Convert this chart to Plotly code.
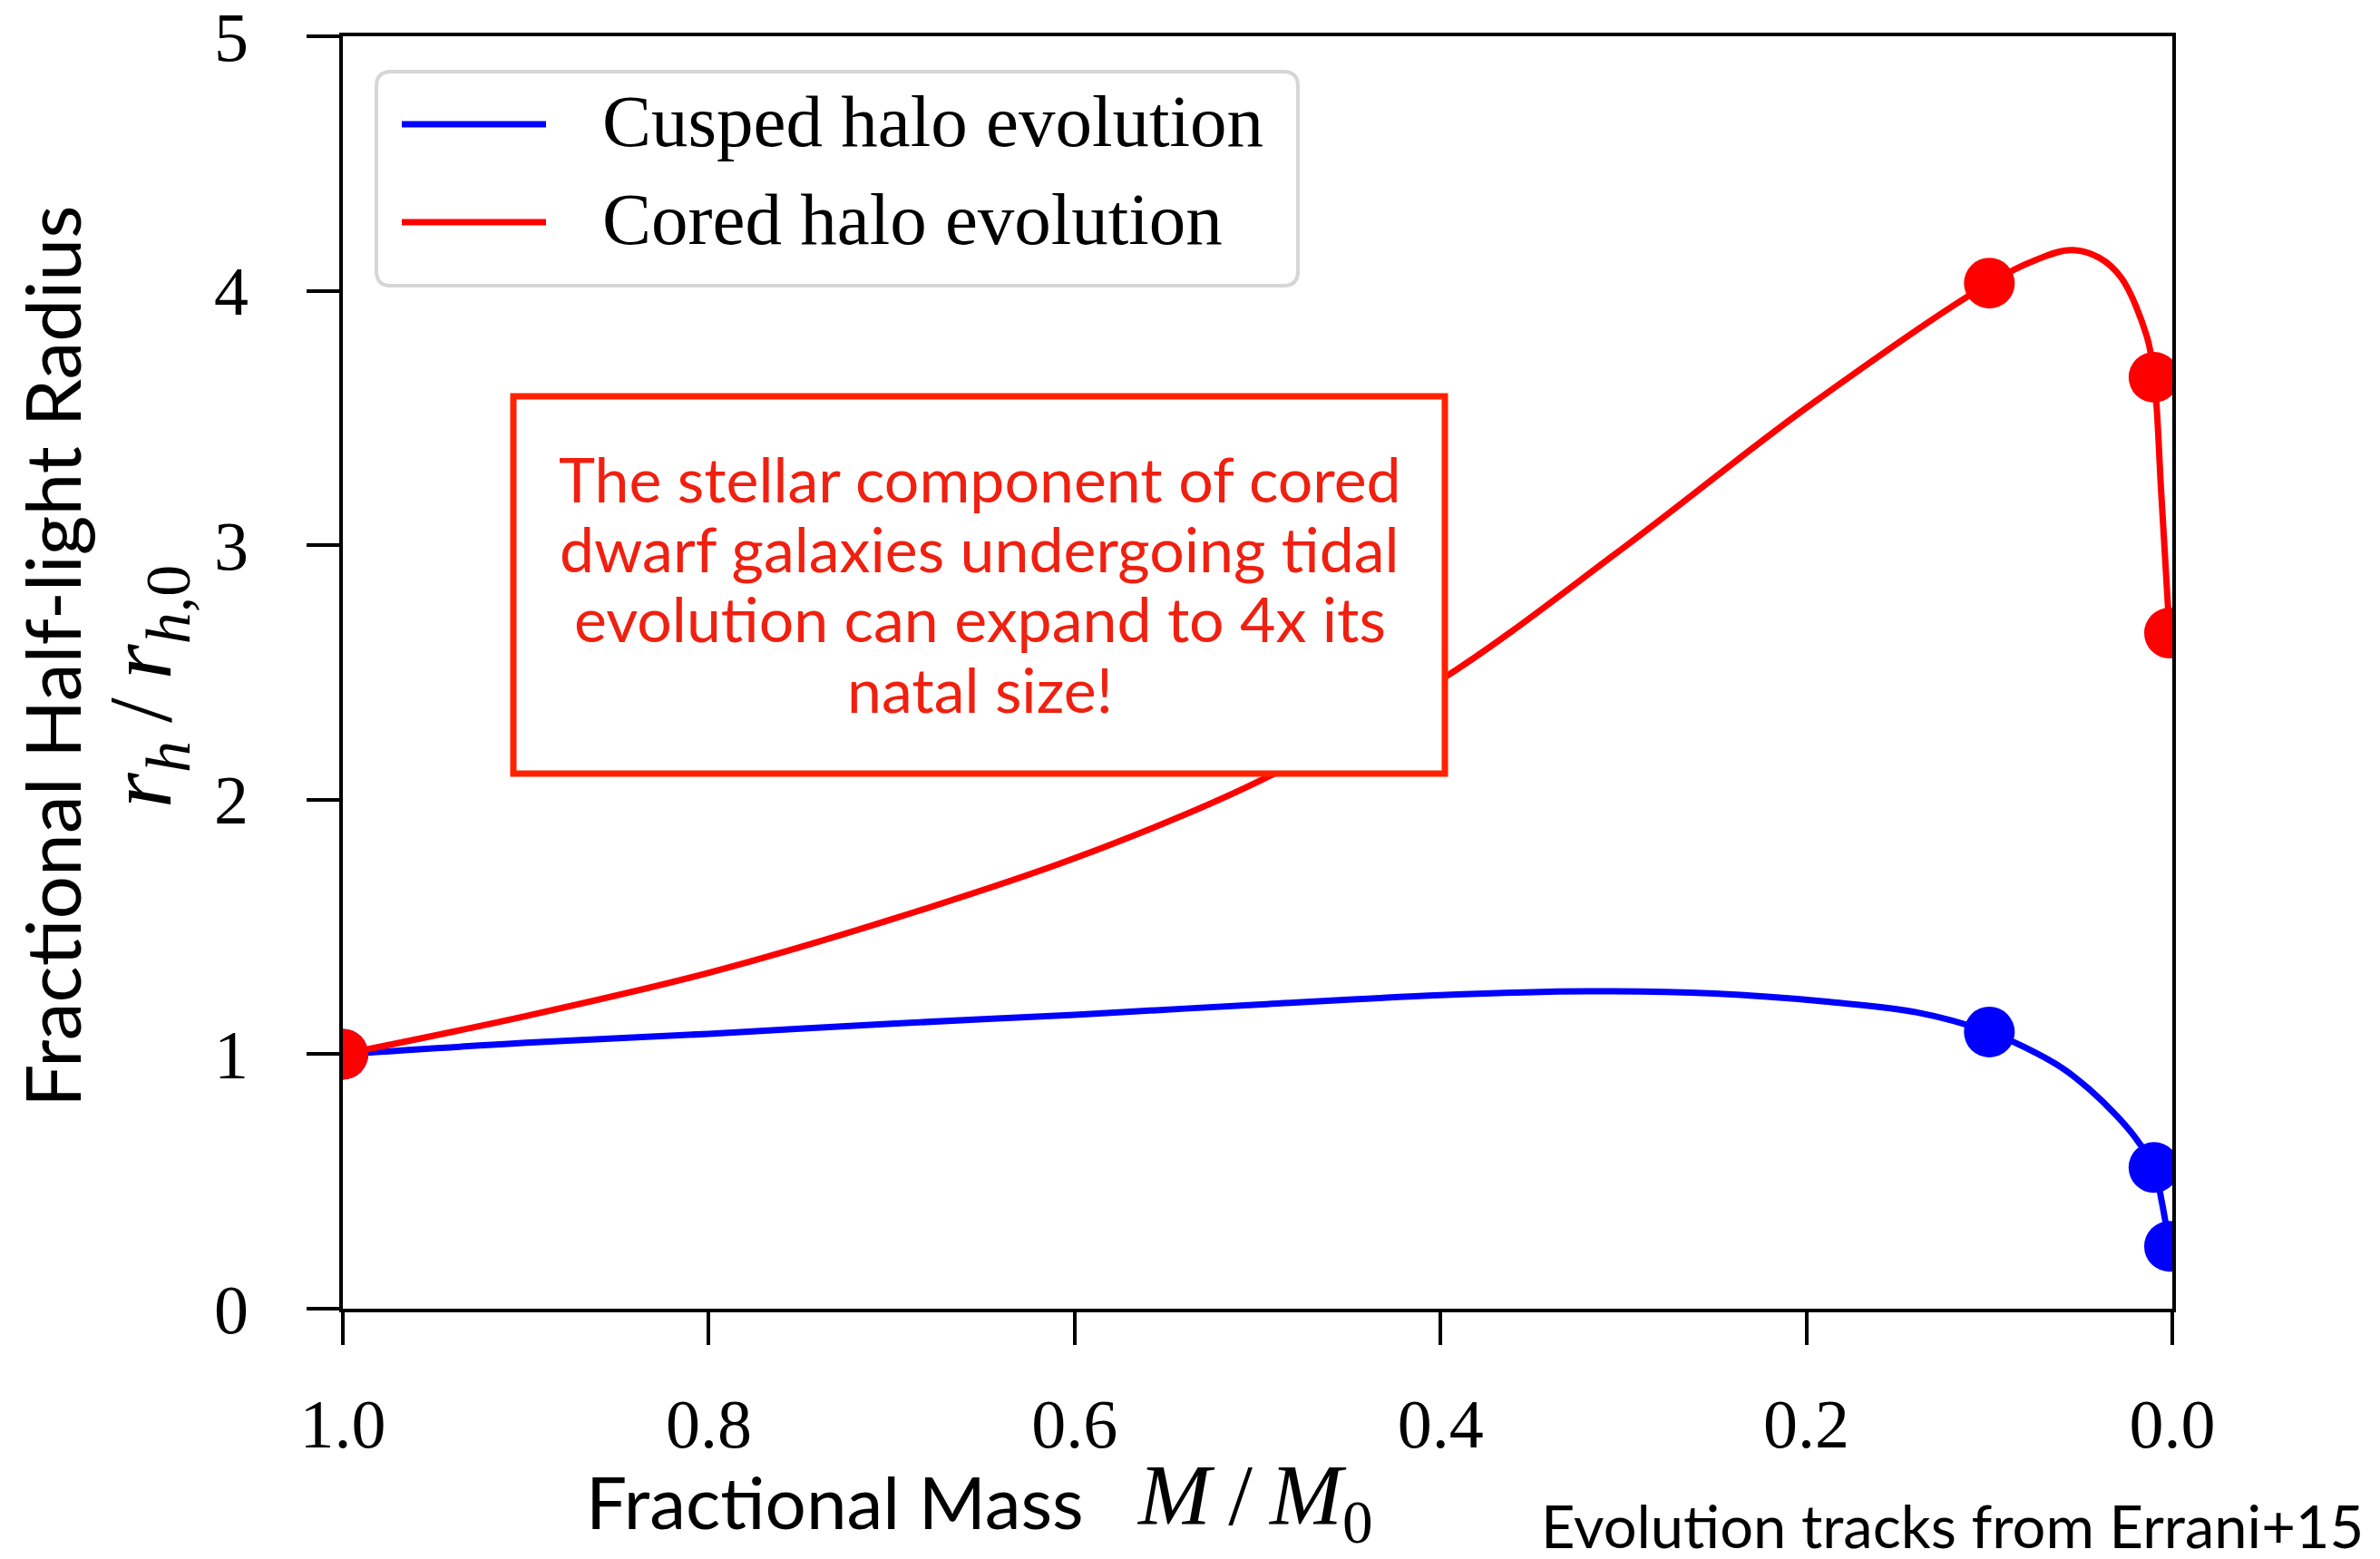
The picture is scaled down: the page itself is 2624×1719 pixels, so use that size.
import plotly.graph_objects as go

# ---------------- data ----------------
mass_cusped = [1.0, 0.9, 0.8, 0.7, 0.6, 0.5, 0.4, 0.32, 0.25, 0.19, 0.14, 0.1,
               0.08, 0.06, 0.045, 0.03, 0.02, 0.01, 0.006, 0.0015]
rh_cusped = [1.0, 1.045, 1.08, 1.12, 1.155, 1.195, 1.232, 1.247, 1.238, 1.207, 1.165, 1.087,
             1.025, 0.945, 0.86, 0.755, 0.67, 0.555, 0.43, 0.245]

mass_cored = [1.0, 0.9, 0.8, 0.7, 0.6, 0.5, 0.4, 0.3, 0.2, 0.1,
              0.075, 0.0555, 0.04, 0.0278, 0.0139, 0.0099, 0.006, 0.0015]
rh_cored = [1.0, 1.15, 1.32, 1.53, 1.77, 2.07, 2.47, 2.99, 3.54, 4.03,
            4.12, 4.16, 4.13, 4.05, 3.82, 3.66, 3.2, 2.655]

snap_mass = [1.0, 0.1, 0.01, 0.0015]
snap_rh_cusped = [1.0, 1.087, 0.555, 0.245]
snap_rh_cored = [1.0, 4.03, 3.66, 2.655]

series_names = ["Cusped halo evolution", "Cored halo evolution"]
series_colors = ["#0000FF", "#FF0000"]

x_tickvals = [1.0, 0.8, 0.6, 0.4, 0.2, 0.0]
x_ticktext = ["1.0", "0.8", "0.6", "0.4", "0.2", "0.0"]
y_tickvals = [0, 1, 2, 3, 4, 5]
y_ticktext = ["0", "1", "2", "3", "4", "5"]

note_lines = ["The stellar component of cored",
              "dwarf galaxies undergoing tidal",
              "evolution can expand to 4x its",
              "natal size!"]

# ---------------- layout helpers ----------------
W, H = 2624, 1719
L, R, T, B = 378, 2395, 40, 1443  # plot area in pixels


def px(x):
    return (x - L) / (R - L)


def py(y):
    return (B - y) / (B - T)


SERIF = "Liberation Serif, Times New Roman, serif"
SANS = "Lato, Open Sans, sans-serif"
NOTE_RED = "#F02010"
BOX_RED = "#FF2200"

fig = go.Figure()

fig.add_trace(go.Scatter(x=mass_cusped, y=rh_cusped, mode="lines", name=series_names[0],
                         line=dict(color=series_colors[0], width=7, shape="spline", smoothing=1.0),
                         showlegend=False))
fig.add_trace(go.Scatter(x=snap_mass, y=snap_rh_cusped, mode="markers", name=series_names[0],
                         marker=dict(color=series_colors[0], size=56), showlegend=False))
fig.add_trace(go.Scatter(x=mass_cored, y=rh_cored, mode="lines", name=series_names[1],
                         line=dict(color=series_colors[1], width=7, shape="spline", smoothing=1.0),
                         showlegend=False))
fig.add_trace(go.Scatter(x=snap_mass, y=snap_rh_cored, mode="markers", name=series_names[1],
                         marker=dict(color=series_colors[1], size=56), showlegend=False))

axis_common = dict(showline=True, linewidth=3.5, linecolor="black", mirror=True,
                   ticks="outside", ticklen=36, tickwidth=3.5, tickcolor="black",
                   showgrid=False, zeroline=False, ticklabeloverflow="allow",
                   automargin=False,
                   tickfont=dict(family=SERIF, size=76, color="black"))

fig.update_xaxes(range=[1.0, 0.0], tickvals=x_tickvals, ticktext=x_ticktext,
                 ticklabelstandoff=22, **axis_common)
fig.update_yaxes(range=[0, 5], tickvals=y_tickvals, ticktext=y_ticktext,
                 ticklabelstandoff=49, **axis_common)

shapes = []
annotations = []

# legend box (rounded)
lx0, ly0, lx1, ly1, rr = 415, 79, 1431, 315, 16
pts = (f"M {px(lx0 + rr)},{py(ly0)} L {px(lx1 - rr)},{py(ly0)} "
       f"Q {px(lx1)},{py(ly0)} {px(lx1)},{py(ly0 + rr)} "
       f"L {px(lx1)},{py(ly1 - rr)} Q {px(lx1)},{py(ly1)} {px(lx1 - rr)},{py(ly1)} "
       f"L {px(lx0 + rr)},{py(ly1)} Q {px(lx0)},{py(ly1)} {px(lx0)},{py(ly1 - rr)} "
       f"L {px(lx0)},{py(ly0 + rr)} Q {px(lx0)},{py(ly0)} {px(lx0 + rr)},{py(ly0)} Z")
shapes.append(dict(type="path", xref="paper", yref="paper", path=pts,
                   line=dict(color="#D6D6D6", width=4), fillcolor="rgba(255,255,255,0.85)",
                   layer="above"))
for i, yrow in enumerate([137, 245]):
    shapes.append(dict(type="line", xref="paper", yref="paper",
                       x0=px(443), x1=px(602), y0=py(yrow), y1=py(yrow),
                       line=dict(color=series_colors[i], width=7), layer="above"))
    annotations.append(dict(xref="paper", yref="paper", x=px(662), y=py(yrow - 3),
                            xanchor="left", yanchor="middle", showarrow=False,
                            text=series_names[i],
                            font=dict(family=SERIF, size=81, color="black")))

# note box
shapes.append(dict(type="rect", xref="paper", yref="paper",
                   x0=px(566), x1=px(1593), y0=py(437), y1=py(853),
                   line=dict(color=BOX_RED, width=7), fillcolor="white", layer="above"))
for line_text, ly in zip(note_lines, [527, 604, 681, 759]):
    annotations.append(dict(xref="paper", yref="paper", x=px(1080), y=py(ly),
                            xanchor="center", yanchor="middle", showarrow=False,
                            text=line_text, font=dict(family=SANS, size=68, color=NOTE_RED)))

# axis titles
annotations.append(dict(xref="paper", yref="paper", x=px(56), y=py(724), textangle=-90,
                        xanchor="center", yanchor="middle", showarrow=False,
                        text="Fractional Half-light Radius",
                        font=dict(family=SANS, size=84, color="black")))
annotations.append(dict(xref="paper", yref="paper", x=px(162), y=py(757), textangle=-90,
                        xanchor="center", yanchor="middle", showarrow=False,
                        text="<i>r</i><sub><i>h</i></sub>\u2009/\u2009<i>r</i><sub><i>h</i>,0</sub>",
                        font=dict(family=SERIF, size=100, color="black")))
annotations.append(dict(xref="paper", yref="paper", x=px(920), y=py(1655),
                        xanchor="center", yanchor="middle", showarrow=False,
                        text="Fractional Mass",
                        font=dict(family=SANS, size=80, color="black")))
annotations.append(dict(xref="paper", yref="paper", x=px(1383), y=py(1655),
                        xanchor="center", yanchor="middle", showarrow=False,
                        text="<i>M</i>\u2009/\u2009<i>M</i><sub>0</sub>",
                        font=dict(family=SERIF, size=96, color="black")))
annotations.append(dict(xref="paper", yref="paper", x=px(2152), y=py(1682),
                        xanchor="center", yanchor="middle", showarrow=False,
                        text="Evolution tracks from Errani+15",
                        font=dict(family=SANS, size=65, color="black")))

fig.update_layout(width=W, height=H, margin=dict(l=L, r=W - R, t=T, b=H - B, pad=0,
                                                 autoexpand=False),
                  paper_bgcolor="white", plot_bgcolor="white",
                  shapes=shapes, annotations=annotations, showlegend=False)

fig.write_html("out.html")
